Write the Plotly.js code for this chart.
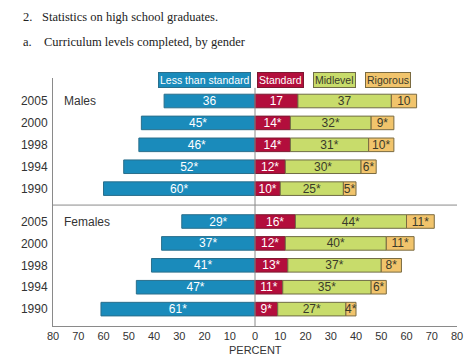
<!DOCTYPE html>
<html>
<head>
<meta charset="utf-8">
<script src="https://cdn.plot.ly/plotly-3.0.1.min.js"></script>
<style>html,body{margin:0;padding:0;background:#fff;}#chart{width:467px;height:357px;}</style>
</head>
<body>
<div id="chart"></div>
<script>
// ---- data ----
var years = ["2005", "2000", "1998", "1994", "1990"];
var groups = ["Males", "Females"];
var seriesNames = ["Less than standard", "Standard", "Midlevel", "Rigorous"];
var xAxisTitle = "PERCENT";

var malesLess     = [36, 45, 46, 52, 60];
var malesStandard = [17, 14, 14, 12, 10];
var malesMid      = [37, 32, 31, 30, 25];
var malesRig      = [10, 9, 10, 6, 5];
var malesSig      = [false, true, true, true, true];

var femalesLess     = [29, 37, 41, 47, 61];
var femalesStandard = [16, 12, 13, 11, 9];
var femalesMid      = [44, 40, 37, 35, 27];
var femalesRig      = [11, 11, 8, 6, 4];
var femalesSig      = [true, true, true, true, true];

var xTickVals = [-80, -70, -60, -50, -40, -30, -20, -10, 0, 10, 20, 30, 40, 50, 60, 70, 80];

// ---- build ----
var fills = ["#1a8bbb", "#b30e3c", "#c8dc6b", "#f1c46c"];
var borders = ["#2a6f8c", "#7c1830", "#6f6c45", "#7a6a40"];
var textColors = ["#ffffff", "#ffffff", "#3a3a2a", "#3a3a2a"];
var sans = "Liberation Sans, Arial, sans-serif";
var serif = "Liberation Serif, serif";

// row positions: males rows then a 1.5-row gap then females rows
var yPos = [];
var yLabels = [];
for (var g = 0; g < 2; g++) {
  for (var i = 0; i < years.length; i++) {
    yPos.push(g * (years.length + 0.5) + i);
    yLabels.push(years[i]);
  }
}
var seriesVals = [
  malesLess.concat(femalesLess),
  malesStandard.concat(femalesStandard),
  malesMid.concat(femalesMid),
  malesRig.concat(femalesRig)
];
var sig = malesSig.concat(femalesSig);

var traces = seriesVals.map(function (vals, s) {
  return {
    type: "bar",
    orientation: "h",
    name: seriesNames[s],
    y: yPos,
    x: vals.map(function (v) { return s === 0 ? -v : v; }),
    width: 0.62,
    text: vals.map(function (v, k) { return v + (sig[k] ? "*" : ""); }),
    textposition: "inside",
    insidetextanchor: "middle",
    textangle: 0,
    constraintext: "none",
    cliponaxis: false,
    textfont: { family: sans, size: 12, color: textColors[s] },
    marker: { color: fills[s], line: { color: borders[s], width: 1 } },
    showlegend: false,
    hoverinfo: "skip"
  };
});

// legend as boxed labels
var legendX = [0.376, 0.562, 0.698, 0.83];
var annotations = seriesNames.map(function (n, s) {
  return {
    xref: "paper", yref: "paper", x: legendX[s], y: 0.99,
    xanchor: "center", yanchor: "middle", showarrow: false,
    text: n, bgcolor: fills[s], bordercolor: borders[s], borderwidth: 1, borderpad: 1,
    font: { family: sans, size: 10.5, color: textColors[s] }
  };
});
annotations.push(
  { xref: "paper", yref: "paper", x: -0.080, y: 1.245, xanchor: "left", yanchor: "middle", showarrow: false,
    text: "2.", font: { family: serif, size: 12.5, color: "#222" } },
  { xref: "paper", yref: "paper", x: -0.032, y: 1.245, xanchor: "left", yanchor: "middle", showarrow: false,
    text: "Statistics on high school graduates.", font: { family: serif, size: 12.5, color: "#222" } },
  { xref: "paper", yref: "paper", x: -0.080, y: 1.145, xanchor: "left", yanchor: "middle", showarrow: false,
    text: "a.", font: { family: serif, size: 12.5, color: "#222" } },
  { xref: "paper", yref: "paper", x: -0.027, y: 1.145, xanchor: "left", yanchor: "middle", showarrow: false,
    text: "Curriculum levels completed, by gender", font: { family: serif, size: 12.5, color: "#222" } },
  { xref: "paper", yref: "y", x: 0.022, y: yPos[0], xanchor: "left", yanchor: "middle", showarrow: false,
    text: groups[0], font: { family: sans, size: 12, color: "#333" } },
  { xref: "paper", yref: "y", x: 0.022, y: yPos[years.length], xanchor: "left", yanchor: "middle", showarrow: false,
    text: groups[1], font: { family: sans, size: 12, color: "#333" } },
  { xref: "paper", yref: "paper", x: 0.5, y: -0.125, xanchor: "center", yanchor: "bottom", showarrow: false,
    borderpad: 0, text: xAxisTitle, font: { family: sans, size: 11, color: "#333" } }
);

var layout = {
  width: 467, height: 357,
  margin: { l: 53, r: 10, t: 78, b: 31, pad: 0 },
  paper_bgcolor: "#ffffff", plot_bgcolor: "#ffffff",
  barmode: "relative",
  bargap: 0,
  font: { family: sans, size: 12, color: "#333" },
  xaxis: {
    range: [-80, 80], tickvals: xTickVals,
    ticktext: xTickVals.map(function (v) { return String(Math.abs(v)); }),
    showgrid: false, zeroline: false, showline: true, linecolor: "#8a8a8a", linewidth: 1,
    ticks: "", tickfont: { size: 11, color: "#333" },
    automargin: false,
    fixedrange: true
  },
  yaxis: {
    range: [10.27, -1.05], tickvals: yPos, ticktext: yLabels,
    showgrid: false, zeroline: false, showline: true, linecolor: "#8a8a8a", linewidth: 1,
    ticks: "", ticklabelstandoff: 2, tickfont: { size: 12, color: "#333" },
    fixedrange: true
  },
  shapes: [
    { type: "line", xref: "x", yref: "y", x0: 0, x1: 0, y0: -0.6, y1: 10.27, line: { color: "#8a8a8a", width: 1 }, layer: "above" },
    { type: "line", xref: "x", yref: "y", x0: -80, x1: 80, y0: 4.75, y1: 4.75, line: { color: "#8a8a8a", width: 1 } }
  ],
  annotations: annotations,
  showlegend: false
};

Plotly.newPlot("chart", traces, layout, { displayModeBar: false, staticPlot: true });
</script>
</body>
</html>
